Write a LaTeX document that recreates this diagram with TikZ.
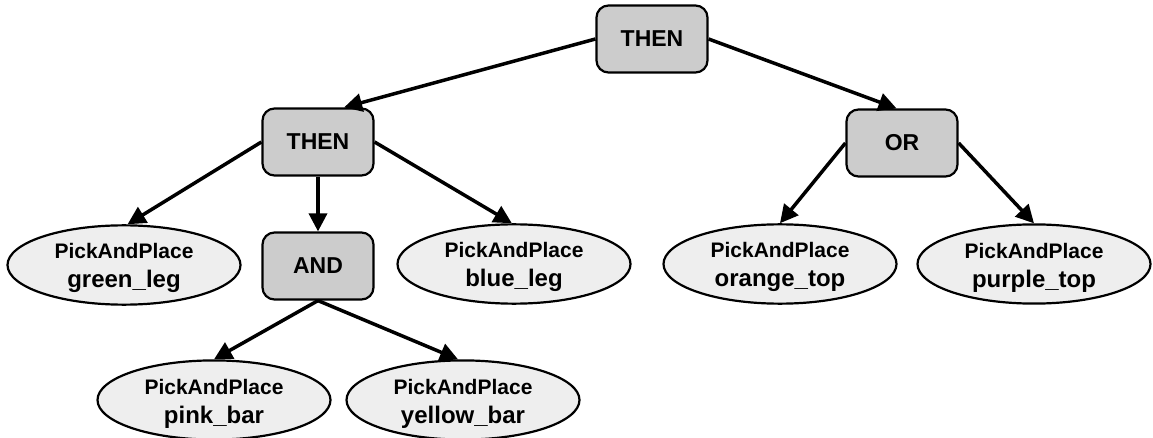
\documentclass[tikz,border=0pt]{standalone}
\usepackage{fontspec}
\setmainfont{Liberation Sans}
\usetikzlibrary{arrows.meta,shapes.geometric}
\definecolor{opgray}{HTML}{CCCCCC}
\definecolor{taskgray}{HTML}{EEEEEE}
% two-line label of a leaf task
\newcommand\pickplace[1]{{\fontsize{21}{29}\selectfont\rule{0pt}{22pt}PickAndPlace}\\{\fontsize{24}{29}\selectfont #1}}
\begin{document}
\begin{tikzpicture}[x=1pt,y=-1pt,
  opbox/.style={draw=black, line width=2.2pt, fill=opgray, rounded corners=12pt,
    minimum width=111pt, minimum height=67pt, inner sep=0pt,
    font=\bfseries\fontsize{23}{26}\selectfont},
  task/.style={ellipse, draw=black, line width=2.2pt, fill=taskgray,
    minimum width=233pt, minimum height=72pt, inner sep=0pt, align=center,
    font=\bfseries\fontsize{24}{29}\selectfont},
  link/.style={line width=3.5pt, -{Triangle[length=18pt,width=18pt]}}]
\useasboundingbox (0,0) rectangle (1153,438);

% operator nodes
\node[opbox] (root) at (652,39) {THEN};
\node[opbox] (seq)  at (318,142) {THEN};
\node[opbox] (alt)  at (902,143) {OR};
\node[opbox] (conj) at (318,266) {AND};

% leaf tasks
\node[task] (green)  at (124,265) {\pickplace{green\_leg}};
\node[task] (blue)   at (514,264) {\pickplace{blue\_leg}};
\node[task] (orange) at (780,264) {\pickplace{orange\_top}};
\node[task] (purple) at (1034,264) {\pickplace{purple\_top}};
\node[task] (pink)   at (214,400) {\pickplace{pink\_bar}};
\node[task] (yellow) at (463,400) {\pickplace{yellow\_bar}};

% connectors
\draw[link] (root.west) -- (seq.53);
\draw[link] (root.east) -- (alt.99);
\draw[link] (seq.west) -- (green.85);
\draw[link] (seq.south) -- (conj.north);
\draw[link] (seq.east) -- (blue.93);
\draw[link] (alt.west) -- (orange.north);
\draw[link] (alt.east) -- (purple.north);
\draw[link] (conj.south) -- (pink.north);
\draw[link] (conj.south) -- (yellow.97);
\end{tikzpicture}
\end{document}
